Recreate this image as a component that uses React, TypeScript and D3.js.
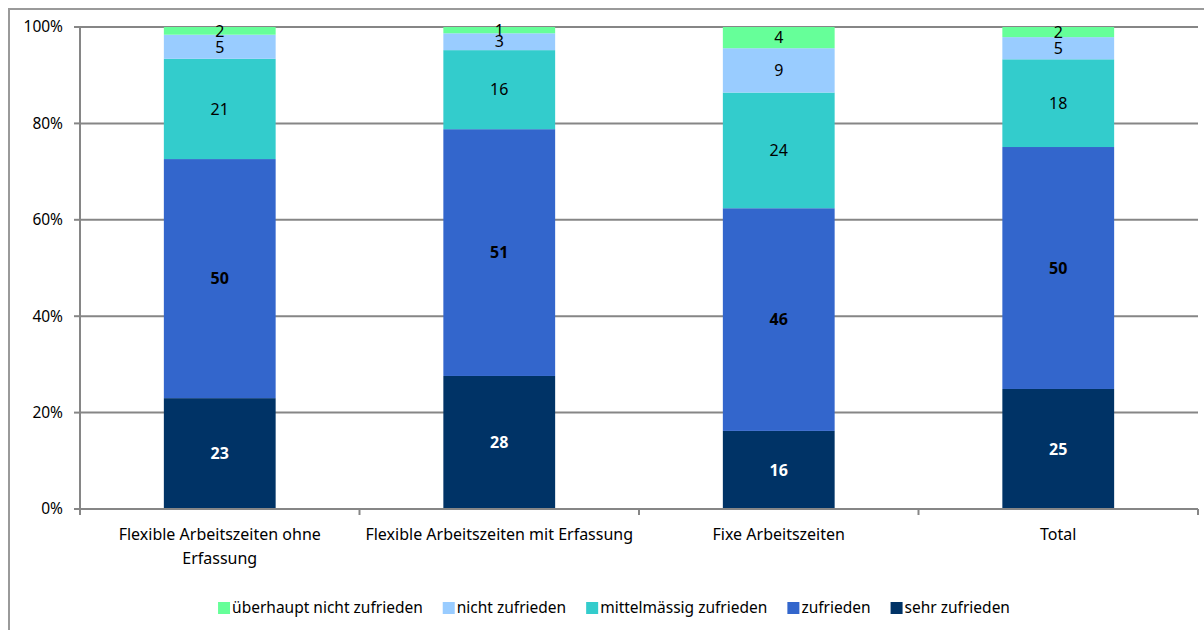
import React, { useEffect, useRef } from "react";
import * as d3 from "d3";

const categories = [
  ["Flexible Arbeitszeiten ohne", "Erfassung"],
  ["Flexible Arbeitszeiten mit Erfassung"],
  ["Fixe Arbeitszeiten"],
  ["Total"],
];
const seriesNames = ["sehr zufrieden", "zufrieden", "mittelmässig zufrieden", "nicht zufrieden", "überhaupt nicht zufrieden"];
const sehrZufrieden = [23.0, 27.6, 16.2, 24.9];
const zufrieden = [49.6, 51.2, 46.2, 50.2];
const mittelmaessig = [20.8, 16.4, 24.0, 18.2];
const nichtZufrieden = [5.0, 3.5, 9.2, 4.6];
const ueberhauptNicht = [1.6, 1.3, 4.4, 2.1];
const seriesLabels = [
  ["23", "28", "16", "25"],
  ["50", "51", "46", "50"],
  ["21", "16", "24", "18"],
  ["5", "3", "9", "5"],
  ["2", "1", "4", "2"],
];
const yTicks = [0, 20, 40, 60, 80, 100];
const colors = ["#003366", "#3366CC", "#33CCCC", "#99CCFF", "#66FF99"];
const legendOrder = [4, 3, 2, 1, 0];

const W = 1204, H = 630;
const FONT = "'Noto Sans', 'Liberation Sans', sans-serif";

export default function App() {
  const ref = useRef<SVGSVGElement>(null);
  useEffect(() => {
    const svg = d3.select(ref.current);
    svg.selectAll("*").remove();
    const series = [sehrZufrieden, zufrieden, mittelmaessig, nichtZufrieden, ueberhauptNicht];
    const left = 80, right = 1198, top = 27, bottom = 509;
    const x = d3.scaleBand<number>().domain(d3.range(categories.length)).range([left, right]).paddingInner(0.6).paddingOuter(0.3);
    const xb = d3.scaleBand<number>().domain(d3.range(categories.length)).range([left, right]);
    const y = d3.scaleLinear().domain([0, 100]).range([bottom, top]);

    // chart border
    svg.append("rect").attr("x", 9).attr("y", 9).attr("width", W + 20).attr("height", H + 20)
      .attr("fill", "white").attr("stroke", "#9a9a9a").attr("stroke-width", 2);

    // gridlines
    svg.append("g").selectAll("line").data(yTicks.filter(t => t > 0)).join("line")
      .attr("x1", left).attr("x2", right).attr("y1", d => y(d)).attr("y2", d => y(d))
      .attr("stroke", "#868686").attr("stroke-width", 2);

    // y axis
    const ya = svg.append("g");
    ya.append("line").attr("x1", left).attr("x2", left).attr("y1", top).attr("y2", bottom + 6)
      .attr("stroke", "#868686").attr("stroke-width", 2);
    ya.selectAll("line.t").data(yTicks).join("line").attr("class", "t")
      .attr("x1", left - 6).attr("x2", left).attr("y1", d => y(d)).attr("y2", d => y(d))
      .attr("stroke", "#868686").attr("stroke-width", 2);
    ya.selectAll("text").data(yTicks).join("text")
      .attr("x", left - 17).attr("y", d => y(d)).attr("dy", "0.35em").attr("text-anchor", "end")
      .attr("font-family", FONT).attr("font-size", 15.5).attr("fill", "#000").text(d => d + "%");

    // stacked bars
    const stackData = categories.map((_, i) => {
      const o: any = { i };
      series.forEach((s, k) => (o[k] = s[i]));
      return o;
    });
    const stacked = d3.stack<any>().keys(series.map((_, k) => String(k)))(stackData);
    stacked.forEach((layer, k) => {
      const g = svg.append("g");
      g.selectAll("rect").data(layer).join("rect")
        .attr("x", (d: any) => x(d.data.i)!).attr("width", x.bandwidth())
        .attr("y", d => y(d[1])).attr("height", d => y(d[0]) - y(d[1]))
        .attr("fill", colors[k]);
      g.selectAll("text").data(layer).join("text")
        .attr("x", (d: any) => x(d.data.i)! + x.bandwidth() / 2)
        .attr("y", d => (y(d[0]) + y(d[1])) / 2).attr("dy", "0.36em")
        .attr("text-anchor", "middle").attr("font-family", FONT).attr("font-size", 16)
        .attr("font-weight", k <= 1 ? "bold" : "normal")
        .attr("fill", k === 0 ? "#fff" : "#000")
        .text((d: any) => seriesLabels[k][d.data.i]);
    });

    // x axis
    const xa = svg.append("g");
    xa.append("line").attr("x1", left).attr("x2", right).attr("y1", bottom).attr("y2", bottom)
      .attr("stroke", "#868686").attr("stroke-width", 2);
    const bounds = [...categories.map((_, i) => xb(i)!), right];
    xa.selectAll("line.t").data(bounds).join("line").attr("class", "t")
      .attr("x1", d => d).attr("x2", d => d).attr("y1", bottom).attr("y2", bottom + 6)
      .attr("stroke", "#868686").attr("stroke-width", 2);
    categories.forEach((lines, i) => {
      const t = xa.append("text").attr("text-anchor", "middle").attr("font-family", FONT)
        .attr("font-size", 16).attr("fill", "#000");
      lines.forEach((ln, j) => {
        t.append("tspan").attr("x", xb(i)! + xb.bandwidth() / 2).attr("y", 540 + j * 24).text(ln);
      });
    });

    // legend
    const lg = svg.append("g");
    let cx = 0;
    const items: any[] = [];
    legendOrder.forEach(k => {
      const it = lg.append("g");
      it.append("rect").attr("x", 0).attr("y", -6).attr("width", 12).attr("height", 12).attr("fill", colors[k]);
      const t = it.append("text").attr("x", 14).attr("y", 0).attr("dy", "0.35em")
        .attr("font-family", FONT).attr("font-size", 15.5).attr("fill", "#000").text(seriesNames[k]);
      const w = 14 + (t.node() as SVGTextElement).getComputedTextLength();
      items.push({ it, cx });
      cx += w + 20;
    });
    const total = cx - 20;
    const start = (206 + 1022) / 2 - total / 2;
    items.forEach(({ it, cx }) => it.attr("transform", `translate(${start + cx},608)`));
  }, []);
  return <svg ref={ref} width={W} height={H} style={{ display: "block", position: "absolute", left: 0, top: 0 }} />;
}
